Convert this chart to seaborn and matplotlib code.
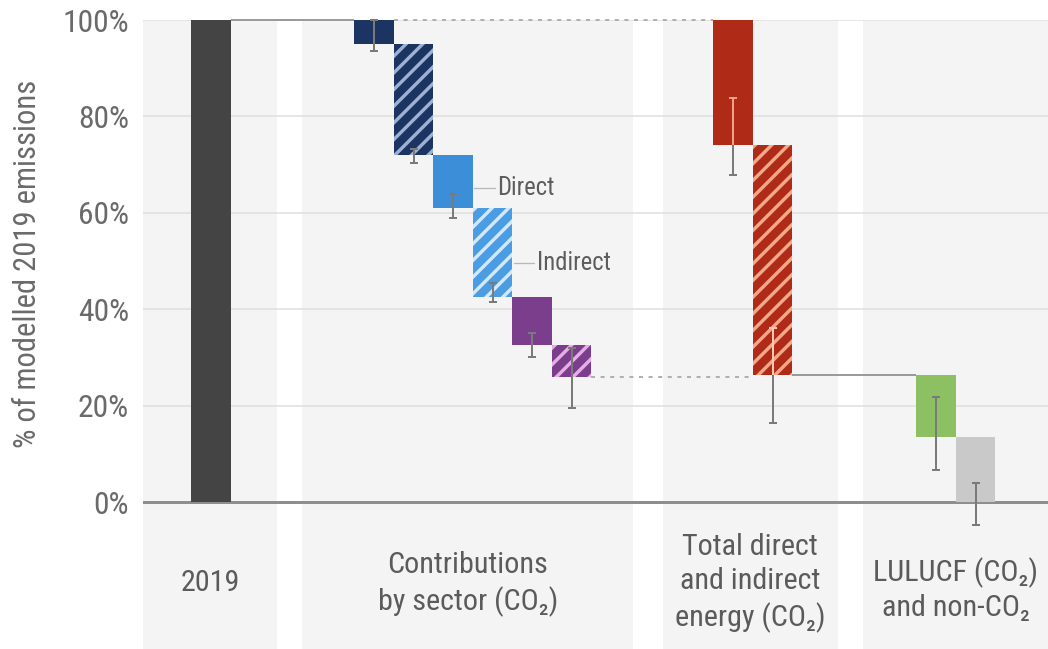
import numpy as np
import matplotlib
matplotlib.use("Agg")
import matplotlib.pyplot as plt
import seaborn as sns
from matplotlib import font_manager as fm

# ---------------- data ----------------
group_labels = ["2019",
                "Contributions\nby sector (CO₂)",
                "Total direct\nand indirect\nenergy (CO₂)",
                "LULUCF (CO₂)\nand non-CO₂"]
ytick_values = [0, 20, 40, 60, 80, 100]
ytick_labels = ["0%", "20%", "40%", "60%", "80%", "100%"]
y_title = "% of modelled 2019 emissions"

bar_names = ["2019", "sector A direct", "sector A indirect", "sector B direct",
             "sector B indirect", "sector C direct", "sector C indirect",
             "energy direct", "energy indirect", "LULUCF", "non-CO2"]
bar_top = [100, 100, 95, 72, 61, 42.5, 32.5, 100, 74, 26.3, 13.5]
bar_bottom = [0, 95, 72, 61, 42.5, 32.5, 26, 74, 26.3, 13.5, 0]
range_high = [np.nan, 100, 73.2, 64, 45.5, 35, 32, 83.8, 36, 21.8, 4]
range_low = [np.nan, 93.5, 70.3, 59, 41.5, 30, 19.5, 67.8, 16.3, 6.6, -4.8]
annot_labels = ["Direct", "Indirect"]

# ---------------- layout / style ----------------
W, H, DPI = 1048, 649, 50
P = 72.0 / DPI            # points per output pixel
xpos = [1.72, 5.85, 6.85, 7.85, 8.85, 9.85, 10.85, 14.94, 15.94, 20.08, 21.08]
colors = ["#444444", "#1c3462", "#1c3462", "#3d8ed8", "#4a9de3", "#7b3e8c",
          "#7b3e8c", "#b02a18", "#b02a18", "#8cc062", "#c9c9c9"]
hatched = [False, False, True, False, True, False, True, False, True, False, False]
stripe_colors = [None, None, "#9fb1d3", None, "#d3e9fb", None, "#e7aee6",
                 None, "#f3a88a", None, None]
panels = [(0, 3.39), (4.03, 12.41), (13.16, 17.59), (18.23, 22.91)]
label_top_y = [-13.9, -10.2, -6.4, -11.4]
annot_bars = [3, 4]
annot_y = [65.1, 49.6]

names = {f.name for f in fm.fontManager.ttflist}
FONT = "Liberation Sans"
for cand in ["Liberation Sans Narrow", "Roboto Condensed", "Open Sans Condensed",
             "Arial Narrow"]:
    if cand in names:
        FONT = cand
        break

sns.set_theme(style="white")
plt.rcParams["font.family"] = [FONT, "DejaVu Sans"]
plt.rcParams["hatch.linewidth"] = 3.4 * P

fig = plt.figure(figsize=(W / DPI, H / DPI), dpi=DPI)
renderer = fig.canvas.get_renderer()


def fit_size(s, target_px):
    t = fig.text(0, 0, s, fontsize=20)
    w = t.get_window_extent(renderer).width
    t.remove()
    return 20 * target_px / w


fs_tick = fit_size("100%", 66)
fs_cat = fit_size("Contributions", 160)
fs_ylab = fit_size(y_title, 366)
fs_ann = fit_size("Direct", 57)

ax = fig.add_axes([143 / W, 0, 1 - 143 / W, (H - 20) / H])
ax.set_xlim(0, 905 / 39.5)
ax.set_ylim(100 - 629 / 4.82, 100)
ax.set_facecolor("white")
for s in ax.spines.values():
    s.set_visible(False)

for a, b in panels:
    ax.axvspan(a, b, color="#f4f4f4", lw=0, zorder=0)

ax.set_yticks(ytick_values, ytick_labels)
ax.set_xticks([])
ax.grid(axis="y", color="#dedede", lw=1.5 * P)
ax.grid(axis="x", visible=False)
ax.set_axisbelow(True)
ax.tick_params(axis="y", length=0, pad=14 * P, labelsize=fs_tick, labelcolor="#6a6a6a")
ax.axhline(0, color="#8e8e8e", lw=3 * P, zorder=1.5)

heights = [t - b for t, b in zip(bar_top, bar_bottom)]
bars = ax.bar(xpos, heights, bottom=bar_bottom, width=1.0, color=colors,
              linewidth=0, zorder=2)
for b, h, sc in zip(bars, hatched, stripe_colors):
    if h:
        b.set_hatch("/")
        b.set_edgecolor(sc)
        b.set_linewidth(0)

# connectors
lw_c = 2 * P
ax.plot([xpos[0] + 0.5, xpos[1] - 0.5], [bar_top[0]] * 2, color="#9b9b9b", lw=lw_c,
        zorder=1.8, clip_on=False, solid_capstyle="butt")
ax.plot([xpos[1] + 0.5, xpos[7] - 0.5], [bar_top[1]] * 2, color="#b0b0b0", lw=lw_c,
        ls=(0, (2, 2.8)), zorder=1.8, clip_on=False)
ax.plot([xpos[6] + 0.5, xpos[8] - 0.5], [bar_bottom[6]] * 2, color="#b0b0b0", lw=lw_c,
        ls=(0, (2, 2.8)), zorder=1.8)
ax.plot([xpos[8] + 0.5, xpos[9] - 0.5], [bar_bottom[8]] * 2, color="#9b9b9b", lw=lw_c,
        zorder=1.8, solid_capstyle="butt")

# uncertainty ranges
hi = np.array(range_high, float)
lo = np.array(range_low, float)
m = ~np.isnan(hi)
xs = np.array(xpos)[m]
mid = (hi[m] + lo[m]) / 2
err = (hi[m] - lo[m]) / 2
eb = ax.errorbar(xs, mid, yerr=err, fmt="none", ecolor="#7a7a7a", elinewidth=2 * P,
                 capsize=4 * P, capthick=2 * P, zorder=3)
for art in list(eb.lines[1]) + list(eb.lines[2]):
    art.set_clip_on(False)

for i, c in zip([7, 8], ["#f0a184", "#f7c9b4"]):
    mm = (range_high[i] + range_low[i]) / 2
    ee = (range_high[i] - range_low[i]) / 2
    eb2 = ax.errorbar([xpos[i]], [mm], yerr=[ee], fmt="none", ecolor=c,
                      elinewidth=2 * P, capsize=4 * P, capthick=2 * P, zorder=3.5)
    for art in list(eb2.lines[1]) + list(eb2.lines[2]):
        art.set_clip_path(bars[i])

# Direct / Indirect annotations
for idx, lab, y in zip(annot_bars, annot_labels, annot_y):
    x0 = xpos[idx] + 0.5
    ax.plot([x0 + 0.04, x0 + 0.55], [y, y], color="#b8b8b8", lw=1.3 * P, zorder=2)
    ax.text(x0 + 0.62, y, lab, ha="left", va="center", fontsize=fs_ann,
            color="#5d5d5d", zorder=4)

# group labels
for (a, b), lab, y in zip(panels, group_labels, label_top_y):
    ax.text((a + b) / 2, y, lab, ha="center", va="top", fontsize=fs_cat,
            color="#5b5b5b", linespacing=1.3, multialignment="center")

ax.text(-0.128, 0.612, y_title, transform=ax.transAxes, rotation=90, ha="center",
        va="center", fontsize=fs_ylab, color="#6a6a6a")

fig.savefig("out.png", dpi=DPI, facecolor="white")
